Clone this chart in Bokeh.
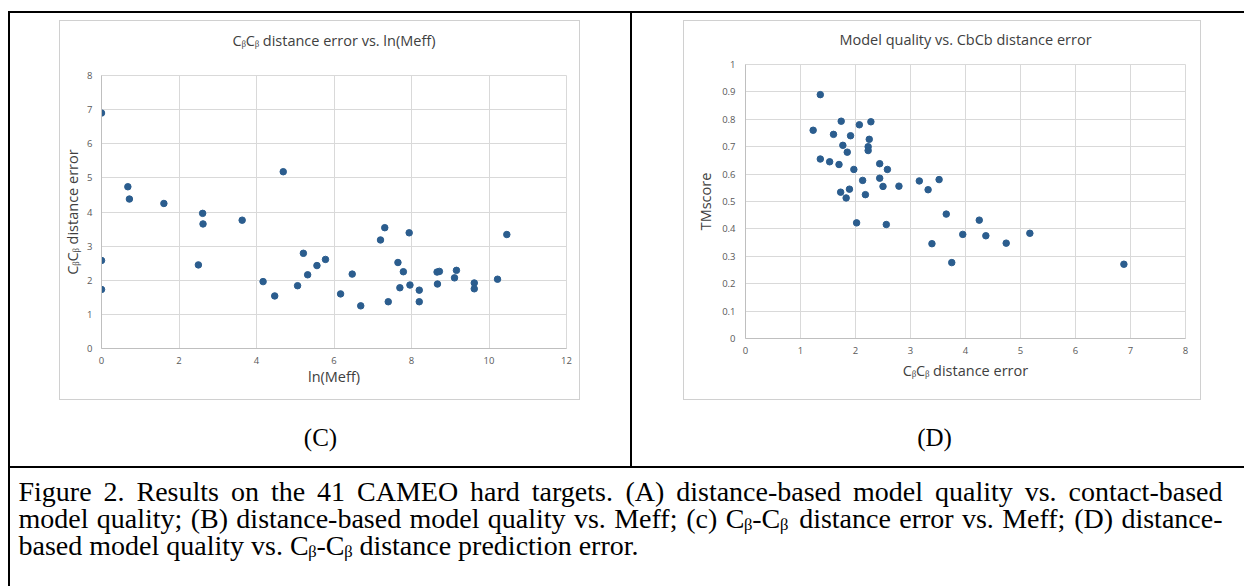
from bokeh.plotting import figure
from bokeh.layouts import column, row
from bokeh.models import Spacer, FixedTicker, Range1d
from bokeh.embed import file_html
from bokeh.resources import INLINE
from bokeh.core.properties import value

# ---------------- data ----------------
# (C) C-beta C-beta distance error vs. ln(Meff)
ln_meff = [0.00, 0.68, 4.69, 0.72, 1.61, 2.61, 2.62, 3.63, 0.00, 0.00,
           2.50, 4.17, 4.47, 5.06, 5.21, 5.32, 5.56, 5.78, 6.17, 6.47,
           6.69, 7.20, 7.31, 7.40, 7.65, 7.70, 7.79, 7.94, 7.96, 8.20,
           8.20, 8.66, 8.72, 8.67, 9.11, 9.16, 9.62, 9.62, 10.22, 10.46]
dist_err_c = [6.90, 4.74, 5.18, 4.38, 4.25, 3.96, 3.65, 3.76, 2.58, 1.73,
              2.45, 1.96, 1.54, 1.84, 2.79, 2.16, 2.43, 2.61, 1.60, 2.18,
              1.25, 3.18, 3.54, 1.37, 2.52, 1.78, 2.25, 3.39, 1.86, 1.71,
              1.37, 2.24, 2.26, 1.89, 2.07, 2.29, 1.92, 1.75, 2.03, 3.34]

# (D) TMscore vs. C-beta C-beta distance error
dist_err_d = [1.36, 1.23, 1.74, 2.07, 2.28, 1.60, 1.91, 2.25, 1.77, 2.23,
              2.23, 1.85, 1.36, 1.53, 1.70, 2.44, 1.97, 2.58, 2.13, 2.44,
              2.50, 2.79, 3.16, 3.32, 3.52, 1.73, 1.89, 2.18, 1.83, 2.02,
              2.56, 3.39, 3.65, 4.25, 3.95, 4.37, 4.74, 5.17, 3.75, 6.88]
tmscore = [0.890, 0.760, 0.793, 0.780, 0.791, 0.745, 0.740, 0.727, 0.705, 0.700,
           0.686, 0.680, 0.655, 0.645, 0.635, 0.638, 0.617, 0.617, 0.577, 0.585,
           0.555, 0.556, 0.575, 0.543, 0.580, 0.534, 0.545, 0.525, 0.513, 0.422,
           0.416, 0.346, 0.454, 0.432, 0.380, 0.375, 0.348, 0.384, 0.277, 0.271]

x_ticks_c = [0, 2, 4, 6, 8, 10, 12]
y_ticks_c = [0, 1, 2, 3, 4, 5, 6, 7, 8]
x_ticks_d = [0, 1, 2, 3, 4, 5, 6, 7, 8]
y_ticks_d = [0, 0.1, 0.2, 0.3, 0.4, 0.5, 0.6, 0.7, 0.8, 0.9, 1]

title_c = "C\u1d66C\u1d66 distance error vs. ln(Meff)"
title_d = "Model quality vs. CbCb distance error"
xlabel_c = "ln(Meff)"
ylabel_c = "C\u1d66C\u1d66 distance error"
xlabel_d = "C\u1d66C\u1d66 distance error"
ylabel_d = "TMscore"
panel_labels = ["(C)", "(D)"]
caption_lines = [
    "Figure 2. Results on the 41 CAMEO hard targets. (A) distance-based model quality vs. contact-based",
    "model quality; (B) distance-based model quality vs. Meff; (c) C\u1d66-C\u1d66 distance error vs. Meff; (D) distance-",
    "based model quality vs. C\u1d66-C\u1d66 distance prediction error.",
]

# ---------------- styles ----------------
MARK = "#2b5d8e"
GRID = "#d9d9d9"
FRAME = "#d0d0d0"
XL_FONT = "Open Sans"
SERIF = "Liberation Serif"

# Times / Liberation Serif advance widths (1/1000 em) for justifying caption lines
_W = {" ": 250, "(": 333, ")": 333, ",": 250, "-": 333, ".": 250, ";": 278, ":": 278,
      "A": 722, "B": 667, "C": 667, "D": 722, "E": 611, "F": 556, "G": 722, "H": 722,
      "I": 333, "J": 389, "K": 722, "L": 611, "M": 889, "N": 722, "O": 722, "P": 556,
      "Q": 722, "R": 667, "S": 556, "T": 611, "U": 722, "V": 722, "W": 944, "X": 722,
      "Y": 722, "Z": 611, "a": 444, "b": 500, "c": 444, "d": 500, "e": 444, "f": 333,
      "g": 500, "h": 500, "i": 278, "j": 278, "k": 500, "l": 278, "m": 778, "n": 500,
      "o": 500, "p": 500, "q": 500, "r": 333, "s": 389, "t": 278, "u": 500, "v": 500,
      "w": 722, "x": 500, "y": 500, "z": 444, "\u1d66": 330}


def text_width(s, px):
    return sum(_W.get(ch, 500) for ch in s) * px / 1000.0


def solid(w, h, color):
    return Spacer(width=w, height=h, styles={"background-color": color})


def blank(w, h):
    return Spacer(width=w, height=h)


def chart(x, y, xr, yr, xt, yt, w, h, borders, xlabel, ylabel,
          xl_std, yl_std, xt_std, yt_std, y_over=None):
    p = figure(width=w, height=h, x_range=Range1d(*xr), y_range=Range1d(*yr),
               output_backend="svg", toolbar_location=None,
               min_border_left=borders[0], min_border_right=borders[1],
               min_border_top=borders[2], min_border_bottom=borders[3])
    p.scatter(x, y, size=6.5, fill_color=MARK, line_color=MARK)
    p.xaxis.ticker = FixedTicker(ticks=xt)
    p.yaxis.ticker = FixedTicker(ticks=yt)
    if y_over:
        p.yaxis.major_label_overrides = y_over
    for ax in (p.xaxis[0], p.yaxis[0]):
        ax.major_tick_line_color = None
        ax.minor_tick_line_color = None
        ax.major_tick_out = 0
        ax.major_tick_in = 0
        ax.minor_tick_out = 0
        ax.minor_tick_in = 0
        ax.axis_line_color = "#bfbfbf"
        ax.major_label_text_color = "#595959"
        ax.major_label_text_font = XL_FONT
        ax.major_label_text_font_size = "9.5px"
        ax.axis_label_text_font = XL_FONT
        ax.axis_label_text_font_size = "14.5px"
        ax.axis_label_text_font_style = "normal"
        ax.axis_label_text_color = "#404040"
    p.xaxis.axis_label = xlabel
    p.yaxis.axis_label = ylabel
    p.xaxis.axis_label_standoff = xl_std
    p.yaxis.axis_label_standoff = yl_std
    p.xaxis.major_label_standoff = xt_std
    p.yaxis.major_label_standoff = yt_std
    p.grid.grid_line_color = GRID
    p.outline_line_color = GRID
    p.background_fill_color = "white"
    p.border_fill_color = "white"
    return p


def text_fig(w, h, lines, xs, ys, size, align, font=SERIF, color="black"):
    p = figure(width=w, height=h, x_range=Range1d(0, w), y_range=Range1d(h, 0),
               output_backend="svg", toolbar_location=None, min_border=0)
    p.axis.visible = False
    p.grid.visible = False
    p.outline_line_color = None
    p.text(x=xs, y=ys, text=lines, text_font=value(font), text_font_size=size,
           text_align=align, text_baseline="middle", text_color=color)
    return p


def framed(title_fig, fig, w, h):
    return column(
        solid(w, 1, FRAME),
        row(solid(1, h - 2, FRAME), column(title_fig, fig), solid(1, h - 2, FRAME)),
        solid(w, 1, FRAME),
    )


# ---------------- charts ----------------
pc = chart(ln_meff, dist_err_c, (0, 12), (0, 8), x_ticks_c, y_ticks_c, 519, 348,
           (39, 13, 24, 51), xlabel_c, ylabel_c, 0, 2, 8, 9)
tc = text_fig(519, 30, [title_c], [259.5], [19], "14.5px", "center", XL_FONT, "#404040")

pd_ = chart(dist_err_d, tmscore, (0, 8), (0, 1), x_ticks_d, y_ticks_d, 516, 348,
            (61, 15, 13, 61), xlabel_d, ylabel_d, 4, 4, 8, 10,
            y_over={0: "0", 1: "1"})
td = text_fig(516, 30, [title_d], [258], [18], "14.5px", "center", XL_FONT, "#404040")

cell_c = column(
    blank(620, 7),
    row(blank(49, 380), framed(tc, pc, 521, 380), blank(50, 380)),
    text_fig(620, 66, [panel_labels[0]], [310], [37], "25px", "center"),
)
cell_d = column(
    blank(612, 7),
    row(blank(51, 380), framed(td, pd_, 518, 380), blank(43, 380)),
    text_fig(612, 66, [panel_labels[1]], [302], [37], "25px", "center"),
)

# ---------------- caption (justified first two lines) ----------------
CAP_PX = 28
cap_left, cap_right = 8, 1212
cap_y = [23, 50, 77]
wx, wy, wt = [], [], []
for i, line in enumerate(caption_lines):
    words = line.split(" ")
    if i < len(caption_lines) - 1:
        widths = [text_width(wd, CAP_PX) for wd in words]
        gap = (cap_right - cap_left - sum(widths)) / (len(words) - 1)
        xpos = cap_left
        for wd, wdw in zip(words, widths):
            wx.append(xpos)
            wy.append(cap_y[i])
            wt.append(wd)
            xpos += wdw + gap
    else:
        wx.append(cap_left)
        wy.append(cap_y[i])
        wt.append(line)

caption = text_fig(1234, 118, wt, wx, wy, f"{CAP_PX}px", "left")

page = column(
    blank(1244, 11),
    row(blank(8, 2), solid(1236, 2, "black")),
    row(blank(8, 453), solid(2, 453, "black"), cell_c, solid(2, 453, "black"), cell_d),
    row(blank(8, 2), solid(1236, 2, "black")),
    row(blank(8, 118), solid(2, 118, "black"), caption),
)

open("out.html", "w").write(file_html(page, INLINE))
